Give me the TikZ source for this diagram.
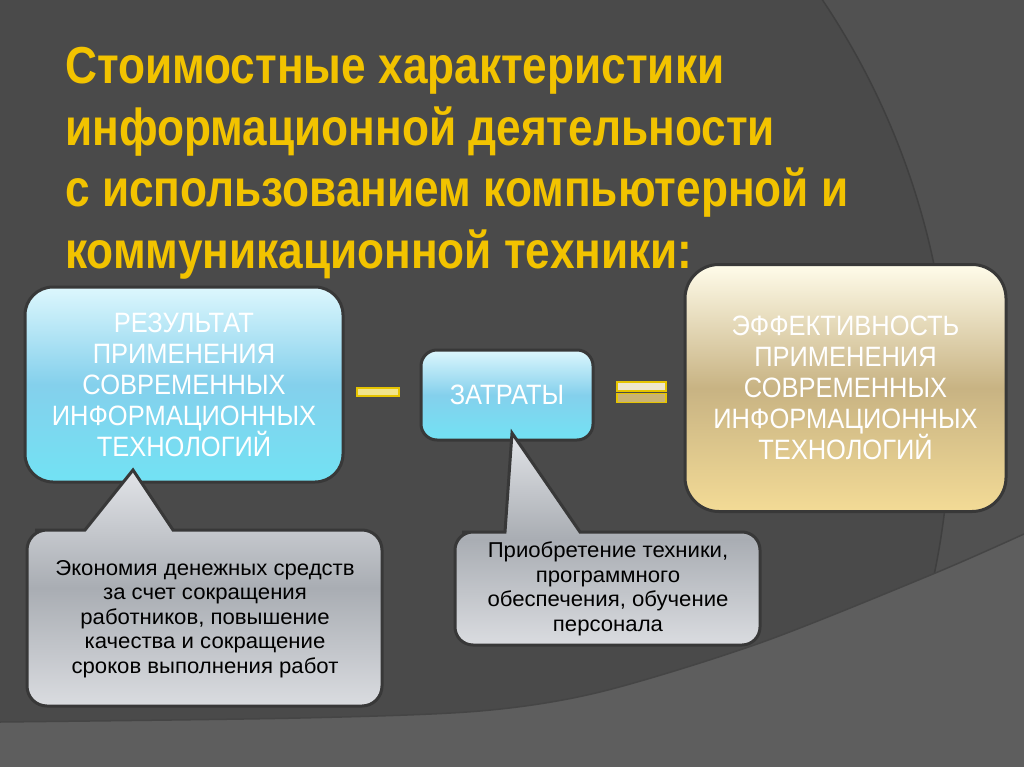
\documentclass[tikz,border=0pt]{standalone}
\usepackage{fontspec}
\setmainfont{Liberation Sans}
\newfontfamily\titlefont{Liberation Sans Bold}[FakeStretch=0.85]
\newfontfamily\boxfont{Liberation Sans}[FakeStretch=0.91]
\newfontfamily\notefont{Liberation Sans}[FakeStretch=1.03]
\usepackage{tikz}
\definecolor{bgdark}{HTML}{4A4A4A}
\definecolor{bgmid}{HTML}{515151}
\definecolor{bglow}{HTML}{5E5E5E}
\definecolor{arcline}{HTML}{3F3F3F}
\definecolor{rim}{HTML}{383838}
\definecolor{titleyellow}{HTML}{F2C300}
\definecolor{bluetop}{HTML}{DDF7FD}
\definecolor{bluemid}{HTML}{84D0EC}
\definecolor{bluebot}{HTML}{72E2F4}
\definecolor{goldtop}{HTML}{FFFCEA}
\definecolor{goldmid}{HTML}{C8B383}
\definecolor{goldbot}{HTML}{F3DB96}
\definecolor{greytop}{HTML}{E2E4E8}
\definecolor{greymid}{HTML}{A9ADB3}
\definecolor{greybot}{HTML}{DADCE0}
\definecolor{barfill}{HTML}{F1E48C}
\definecolor{barline}{HTML}{E6C400}
\definecolor{eqlight}{HTML}{EFE6CC}
\definecolor{eqdark}{HTML}{C9B272}

\begin{document}
\begin{tikzpicture}[x=1pt,y=-1pt,
		bluebox/.style={draw=rim,line width=3pt,top color=bluetop,bottom color=bluebot,middle color=bluemid,
			text=white,font=\boxfont\fontsize{28}{31}\selectfont,align=center,inner sep=0pt},
		goldbox/.style={draw=rim,line width=3pt,top color=goldtop,bottom color=goldbot,middle color=goldmid,
			text=white,font=\boxfont\fontsize{28}{31}\selectfont,align=center,inner sep=0pt},
		note/.style={draw=rim,line width=3pt,top color=greytop,bottom color=greybot,middle color=greymid},
		notetext/.style={text=black,font=\notefont\fontsize{21.5}{24.5}\selectfont,align=center,inner sep=0pt},
		bar/.style={draw=barline,line width=1.2pt,inner sep=0pt}]
				\useasboundingbox (0,0) rectangle (1024,767);
				% background
				\fill[bgdark] (0,0) rectangle (1024,767);
				\begin{scope}
					\clip (0,0) rectangle (1024,767);
					\fill[bgmid,even odd rule] (0,0) rectangle (1024,767) (195,420) circle (755);
					\draw[arcline,line width=1.5pt] (195,420) circle (755);
					\fill[bglow] plot[smooth] coordinates {(0,722) (300,718) (480,711) (600,692) (760,643) (933,574) (1024,534)}
						-- (1024,767) -- (0,767) -- cycle;
					\draw[arcline!80!bglow,line width=1.5pt] plot[smooth] coordinates {(0,722) (300,718) (480,711) (600,692) (760,643) (933,574) (1024,534)};
				\end{scope}
				% title
				\node[anchor=north west,inner sep=0pt,align=left,text=titleyellow,font=\titlefont\fontsize{52}{61.7}\selectfont] (title) at (65,47)
					{Стоимостные характеристики\\информационной деятельности\\с использованием компьютерной и\\коммуникационной техники:};
				% boxes
				\node[bluebox,rounded corners=28pt,minimum width=318,minimum height=195] (result) at (184,384.5)
					{РЕЗУЛЬТАТ\\ПРИМЕНЕНИЯ\\СОВРЕМЕННЫХ\\ИНФОРМАЦИОННЫХ\\ТЕХНОЛОГИЙ};
				\node[bluebox,rounded corners=16pt,minimum width=172,minimum height=90] (costs) at (507,395)
					{ЗАТРАТЫ};
				\node[goldbox,rounded corners=34pt,minimum width=321,minimum height=247] (effect) at (845.5,388)
					{ЭФФЕКТИВНОСТЬ\\ПРИМЕНЕНИЯ\\СОВРЕМЕННЫХ\\ИНФОРМАЦИОННЫХ\\ТЕХНОЛОГИЙ};
				\node[bar,fill=barfill,minimum width=42,minimum height=8] (minus) at (378,392) {};
				\node[bar,fill=eqlight,minimum width=49,minimum height=9] (eqtop) at (641.5,386.5) {};
				\node[bar,fill=eqdark,minimum width=49,minimum height=9] (eqbot) at (641.5,398) {};
				% callouts
				\draw[note] (55,530) -- (85,530) -- (133,470) -- (173,530) -- (200,530) [rounded corners=20pt]
					-- (382,530) -- (382,706) -- (27,706) -- (27,530) -- cycle;
				\draw[note] (480,532) -- (505,532) -- (512,433) -- (580,532) -- (600,532) [rounded corners=18pt]
					-- (760,532) -- (760,645) -- (455,645) -- (455,532) -- cycle;
				\node[notetext] (saving) at (205,619)
					{Экономия денежных средств\\за счет сокращения\\работников, повышение\\качества и сокращение\\сроков выполнения работ};
				\node[notetext] (purchase) at (608,589)
					{Приобретение техники,\\программного\\обеспечения, обучение\\персонала};
			\end{tikzpicture}
\end{document}
